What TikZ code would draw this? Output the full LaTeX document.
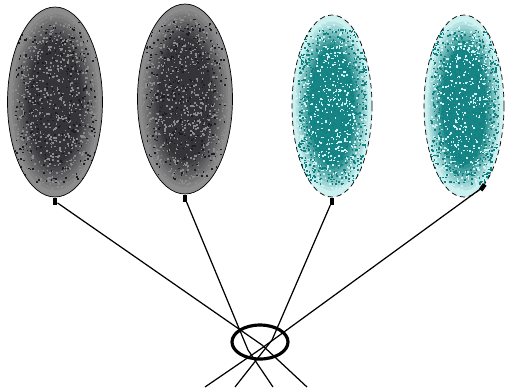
\documentclass[tikz,border=0pt]{standalone}
\usetikzlibrary{shapes.geometric,backgrounds}
\definecolor{balloongray}{RGB}{140,140,140}
\definecolor{balloondark}{RGB}{30,30,36}
\definecolor{balloonteal}{RGB}{16,128,128}
\definecolor{balloonpale}{RGB}{205,240,240}

\begin{document}
\begin{tikzpicture}[x=0.02cm,y=-0.02cm,
    balloon/.style={ellipse,draw=black,thin,inner sep=0pt},
    grayballoon/.style={balloon,minimum width=1.9cm,minimum height=3.8cm},
    tealballoon/.style={balloon,densely dashed,minimum width=1.6cm,minimum height=3.64cm},
    knot/.style={rectangle,fill=black,inner sep=0pt,minimum width=2.5pt,minimum height=4pt},
    string/.style={draw=black,line width=0.7pt}]
  \useasboundingbox (0,0) rectangle (507,387);
  % balloons
  \node[grayballoon] (b1) at (55,102) {};
  \node[grayballoon] (b2) at (185,99) {};
  \node[tealballoon] (b3) at (332,106) {};
  \node[tealballoon] (b4) at (464,106) {};
  % fills and speckles
  \begin{pgfonlayer}{background}
    \pgfmathsetseed{17}
    \foreach \n/\rx/\ry/\co/\ci/\st/\ka/\kb in {b1/47.5/95/balloongray/balloondark/10/1100/350,b2/47.5/95/balloongray/balloondark/10/1100/350,
        b3/40/91/balloonpale/balloonteal/12/900/900,b4/40/91/balloonpale/balloonteal/12/900/900}{
      \begin{scope}
        \clip (\n.center) ellipse[x radius=\rx,y radius=\ry];
        \fill[\co] (\n.center) ellipse[x radius=\rx,y radius=\ry];
        \foreach \i in {1,...,8}
          \fill[\ci!\the\numexpr\i*\st\relax!\co] (\n.center) ellipse[x radius={\rx*(0.96-0.05*\i)},y radius={\ry*(0.97-0.04*\i)}];
        \foreach \i in {1,...,\ka}
          \fill[\co,shift={(\n.center)}] ({\rx*rand},{\ry*rand}) rectangle +(1.6,1.6);
        \foreach \i in {1,...,\kb}
          \fill[\ci,shift={(\n.center)}] ({0.85*\rx*rand},{0.85*\ry*rand}) rectangle +(1.6,1.6);
      \end{scope}
    }
  \end{pgfonlayer}
  % knots
  \node[knot,anchor=north] (k1) at (b1.south) {};
  \node[knot,anchor=north] (k2) at (b2.south) {};
  \node[knot,anchor=north] (k3) at (b3.south) {};
  \node[knot,anchor=north,rotate=-35] (k4) at (b4.-75) {};
  % strings
  \coordinate (m1) at (262,345);
  \coordinate (m2) at (248,350);
  \coordinate (m3) at (272,340);
  \coordinate (m4) at (262,348);
  \coordinate (e1) at (307,387);
  \coordinate (e2) at (273,387);
  \coordinate (e3) at (235,387);
  \coordinate (e4) at (205,387);
  \draw[string] (k1) -- (m1) -- (e1);
  \draw[string] (k2) -- (m2) -- (e2);
  \draw[string] (k3) -- (m3) -- (e3);
  \draw[string] (k4) -- (m4) -- (e4);
  % ring
  \node[ellipse,draw=black,line width=1.8pt,minimum width=1.12cm,minimum height=0.68cm,inner sep=0pt] (ring) at (260,342) {};
\end{tikzpicture}
\end{document}
